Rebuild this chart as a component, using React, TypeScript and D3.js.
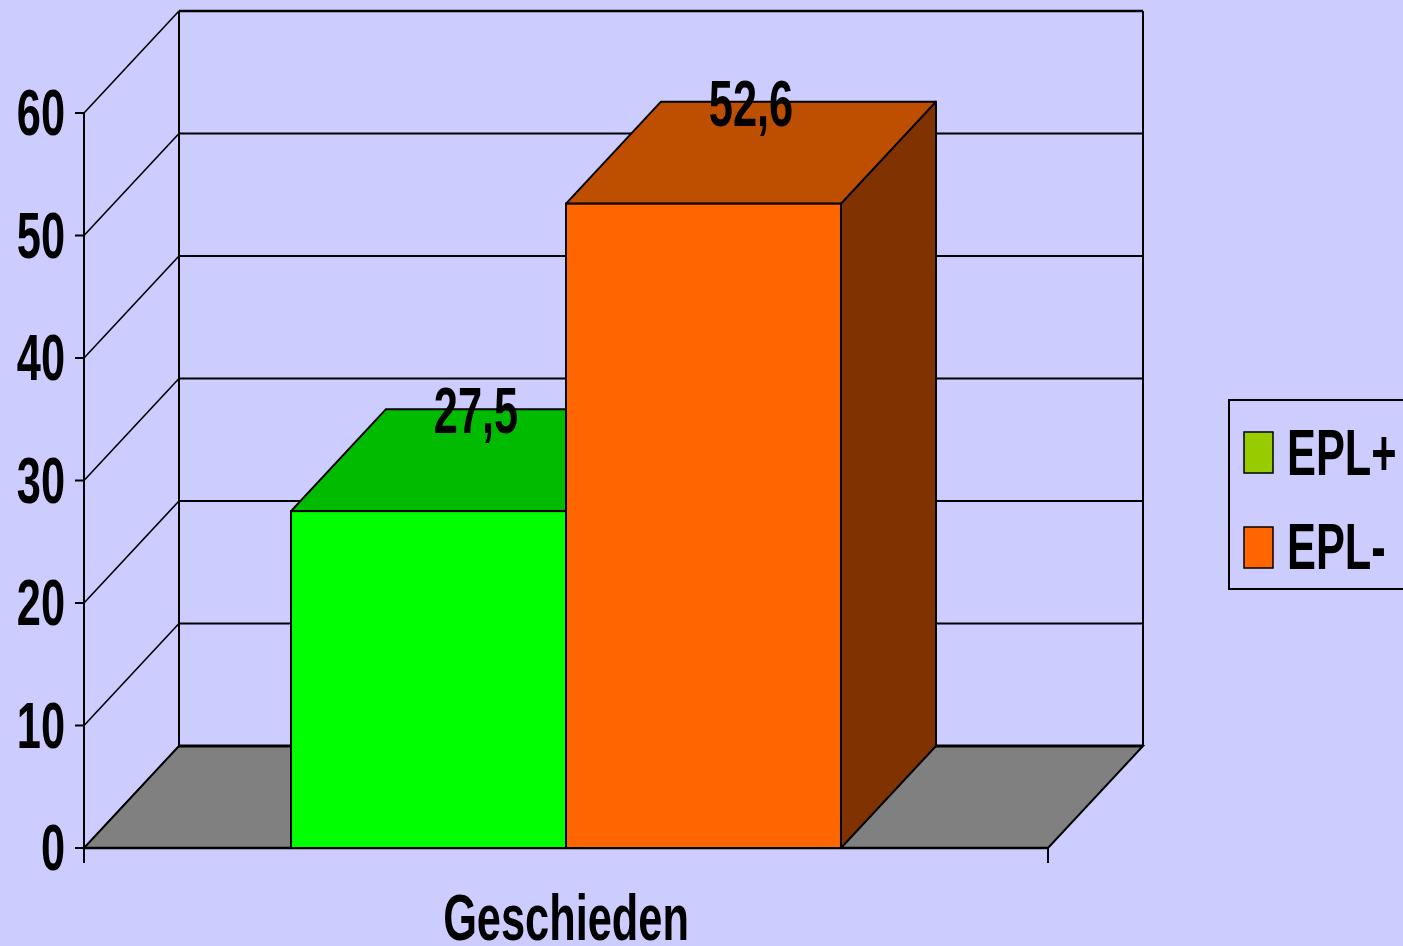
import React from "react";
import { scaleLinear, scaleBand, range } from "d3";

const categories = ["Geschieden"];
const series = ["EPL+", "EPL-"];
const values = [27.5, 52.6];
const valueLabels = ["27,5", "52,6"];
const yTicks = [0, 10, 20, 30, 40, 50, 60];

const frontColors = ["#00ff00", "#ff6600"];
const topColors = ["#00bb00", "#bf4f00"];
const sideColors = ["#008000", "#803300"];
const legendColors = ["#99cc00", "#ff6600"];

const W = 1403, H = 946;
const left = 84, right = 1048, y0 = 848, y60 = 113;
const dx = 95, dy = -102;
const FONT = "'Liberation Sans', Arial, sans-serif";
const SX = 0.667;

function Label({ x, y, anchor = "middle", size = 65, children }: any) {
  return (
    <g transform={`translate(${x},${y}) scale(${SX},1)`}>
      <text textAnchor={anchor} fontFamily={FONT} fontWeight="bold" fontSize={size} fill="#000">
        {children}
      </text>
    </g>
  );
}

export default function App() {
  const y = scaleLinear().domain([0, 60]).range([y0, y60]);
  const xCat = scaleBand().domain(categories).range([left, right]).padding(0.2735);
  const xSer = scaleBand().domain(series).range([0, xCat.bandwidth()]);

  const floor = `M${left},${y0}L${right},${y0}L${right + dx},${y0 + dy}L${left + dx},${y0 + dy}Z`;

  return (
    <svg width={W} height={H} style={{ position: "absolute", left: 0, top: 0, background: "#ccccff" }}>
      <rect width={W} height={H} fill="#ccccff" />
      {/* back wall grid */}
      {yTicks.map((t) => (
        <g key={t}>
          <line x1={left + dx} x2={right + dx} y1={y(t) + dy} y2={y(t) + dy} stroke="#000" strokeWidth={t === 60 ? 2.6 : 2} />
          <line x1={left} x2={left + dx} y1={y(t)} y2={y(t) + dy} stroke="#000" strokeWidth={1.6} />
        </g>
      ))}
      <line x1={left + dx} x2={left + dx} y1={y(60) + dy} y2={y(0) + dy} stroke="#000" strokeWidth={2} />
      <line x1={right + dx} x2={right + dx} y1={y(60) + dy} y2={y(0) + dy} stroke="#000" strokeWidth={2} />
      {/* floor */}
      <path d={floor} fill="#808080" stroke="#000" strokeWidth={2} />
      <line x1={left + dx} x2={right + dx} y1={y0 + dy} y2={y0 + dy} stroke="#000" strokeWidth={3} />
      {/* front axis */}
      <line x1={left} x2={left} y1={y(60)} y2={y0 + 15} stroke="#000" strokeWidth={2} />
      <line x1={right} x2={right} y1={y0} y2={y0 + 15} stroke="#000" strokeWidth={2} />
      <line x1={left} x2={right} y1={y0} y2={y0} stroke="#000" strokeWidth={2.5} />
      {yTicks.map((t) => (
        <g key={t}>
          <line x1={left - 9} x2={left} y1={y(t)} y2={y(t)} stroke="#000" strokeWidth={2} />
          <Label x={65} y={y(t) + 22} anchor="end">{t}</Label>
        </g>
      ))}
      {/* bars */}
      {categories.map((c) =>
        series.map((s, i) => {
          const x0 = (xCat(c) ?? 0) + (xSer(s) ?? 0);
          const x1 = x0 + xSer.bandwidth();
          const yt = y(values[i]);
          const top = `M${x0},${yt}L${x0 + dx},${yt + dy}L${x1 + dx},${yt + dy}L${x1},${yt}Z`;
          const side = `M${x1},${yt}L${x1 + dx},${yt + dy}L${x1 + dx},${y0 + dy}L${x1},${y0}Z`;
          return (
            <g key={s}>
              <path d={side} fill={sideColors[i]} stroke="#000" strokeWidth={2} strokeLinejoin="round" />
              <path d={top} fill={topColors[i]} stroke="#000" strokeWidth={2} strokeLinejoin="round" />
              <rect x={x0} y={yt} width={x1 - x0} height={y0 - yt} fill={frontColors[i]} stroke="#000" strokeWidth={2} />
            </g>
          );
        })
      )}
      {categories.map((c) =>
        series.map((s, i) => {
          const cx = (xCat(c) ?? 0) + (xSer(s) ?? 0) + xSer.bandwidth() / 2 + dx / 2;
          return (
            <Label key={s} x={cx} y={y(values[i]) - 78}>{valueLabels[i]}</Label>
          );
        })
      )}
      {/* category label */}
      {categories.map((c) => (
        <Label key={c} x={(xCat(c) ?? 0) + xCat.bandwidth() / 2} y={940}>{c}</Label>
      ))}
      {/* legend */}
      <rect x={1229} y={400} width={220} height={189} fill="none" stroke="#000" strokeWidth={2} />
      {range(series.length).map((i) => (
        <g key={series[i]}>
          <rect x={1244} y={432 + i * 95} width={29} height={41} fill={legendColors[i]} stroke="#000" strokeWidth={1.5} />
          <Label x={1287} y={475 + i * 94} anchor="start">{series[i]}</Label>
        </g>
      ))}
    </svg>
  );
}
